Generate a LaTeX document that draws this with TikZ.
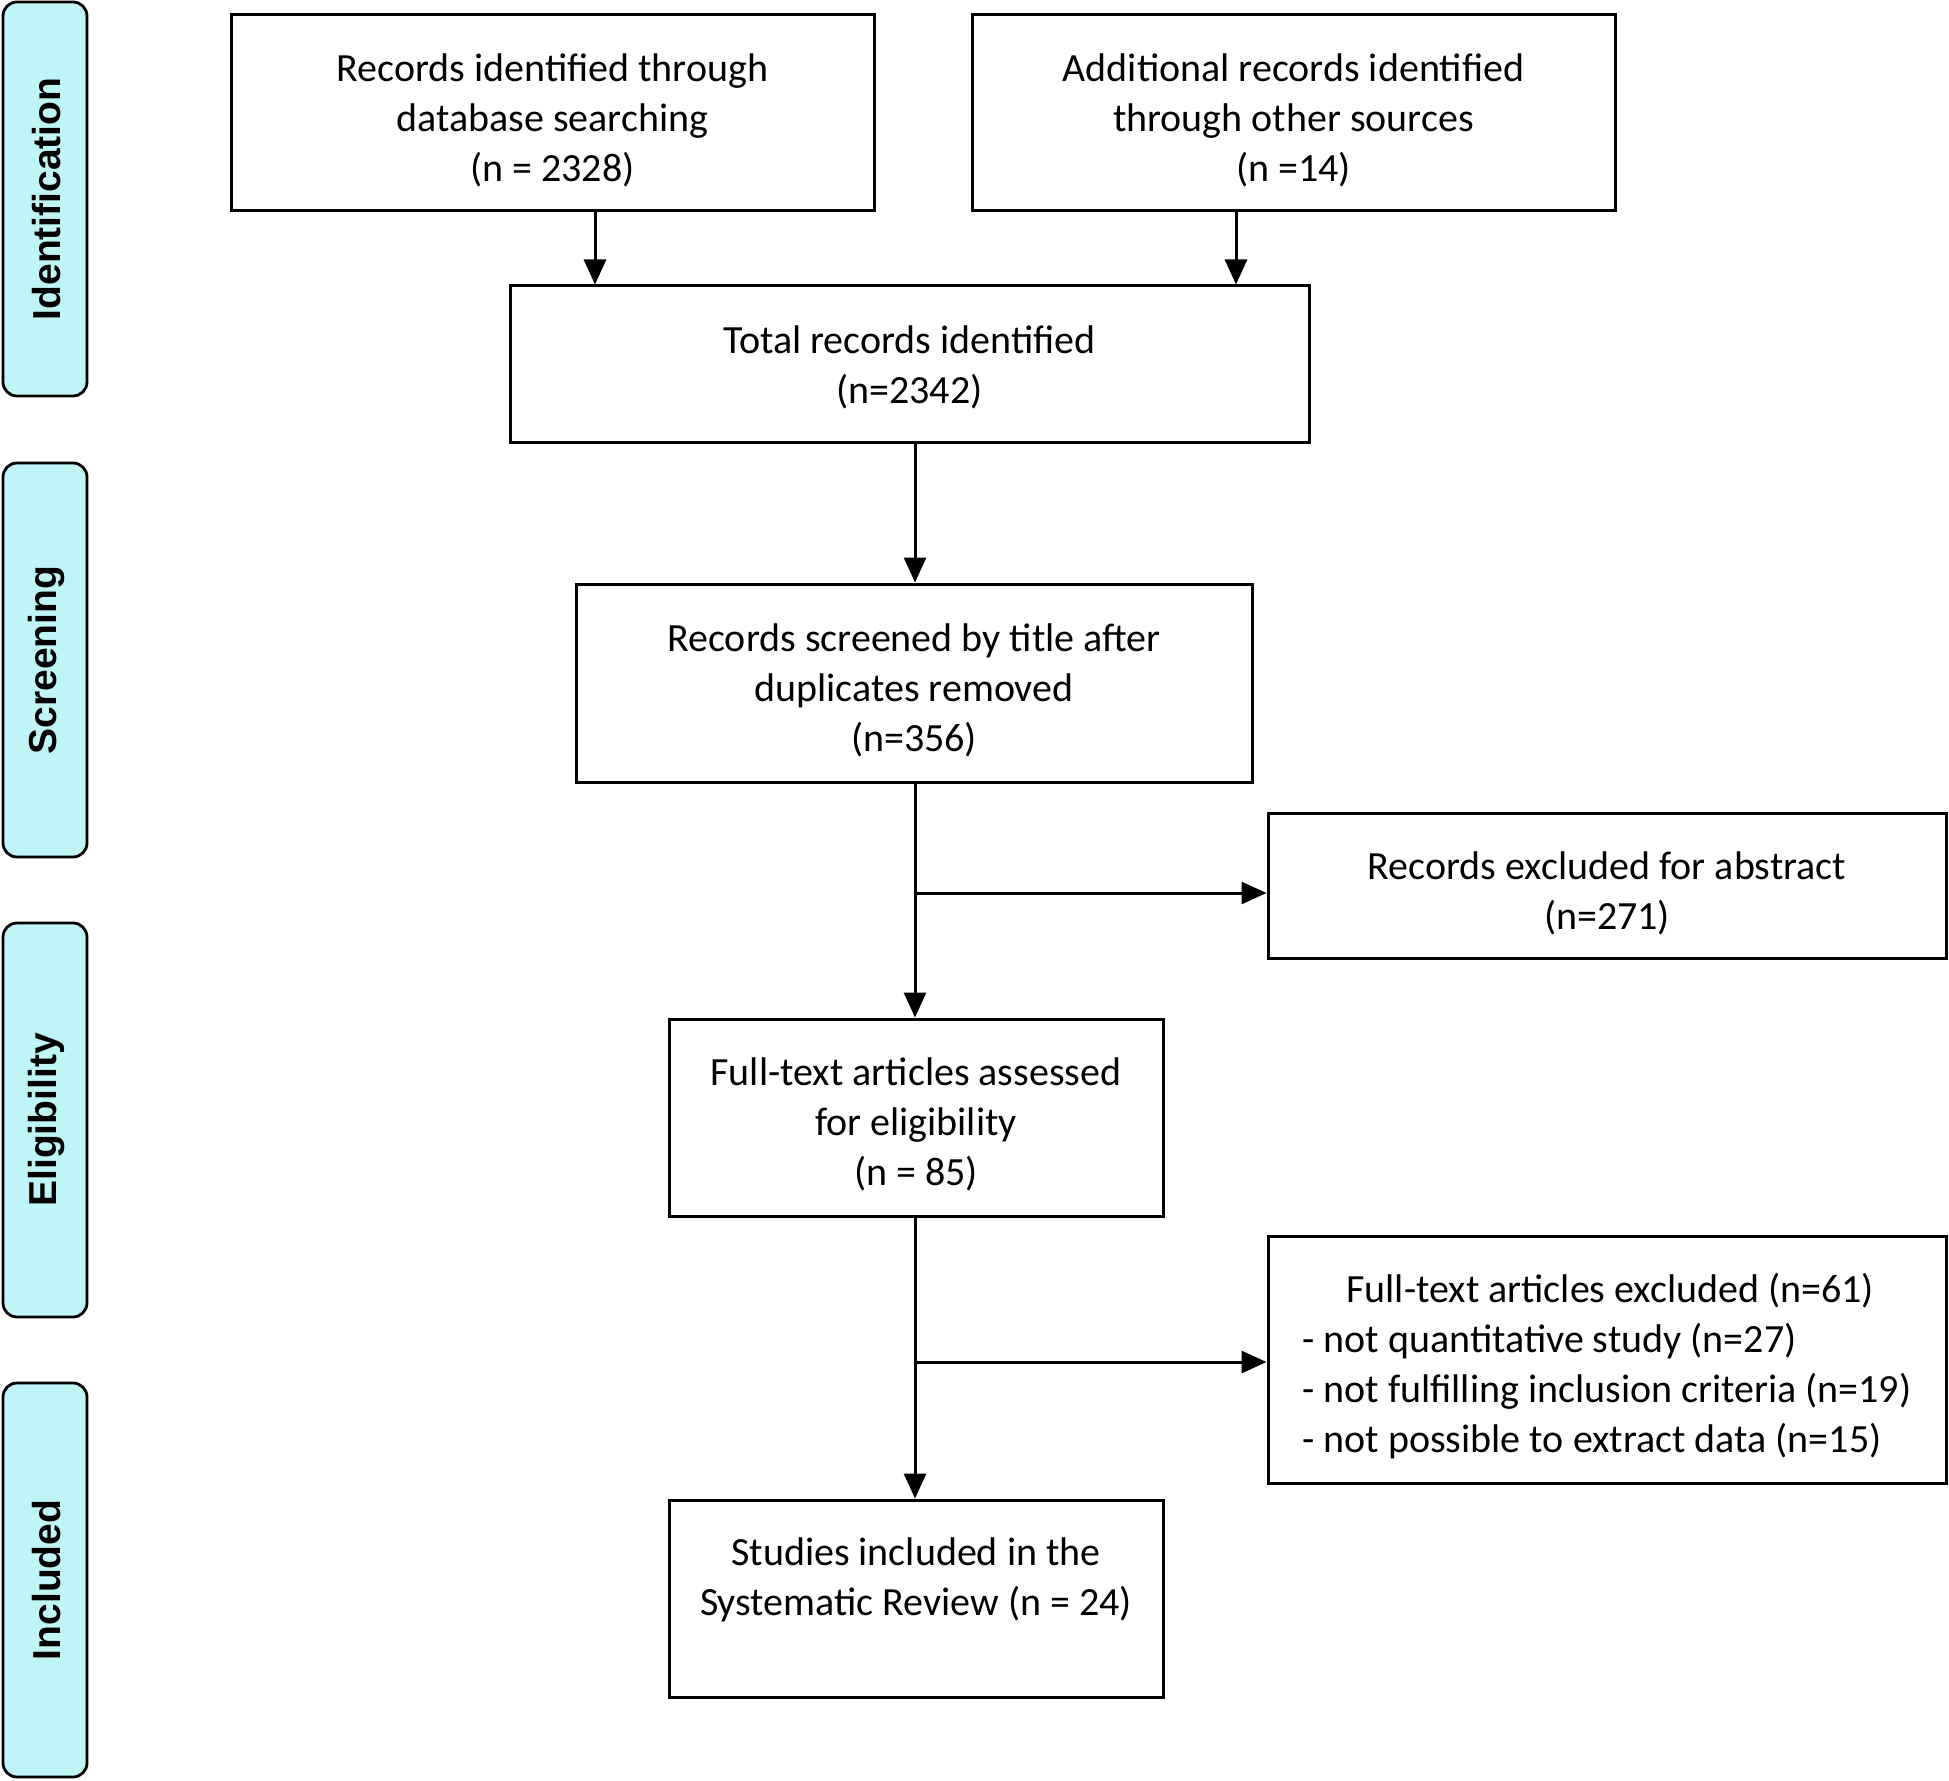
\documentclass[tikz,border=0pt]{standalone}
\usepackage{fontspec}
\setmainfont{Carlito}
\newfontfamily\sidefont{Liberation Sans}
\usetikzlibrary{arrows.meta}
\definecolor{sidecyan}{RGB}{192,245,247}
\newcommand\boxtext[3][c]{\raisebox{-#2}[\height][\depth]{\begin{tabular}{@{}#1@{}}#3\end{tabular}}}
\begin{document}
\begin{tikzpicture}[x=0.5pt,y=-0.5pt,
  box/.style={draw=black,line width=1.5pt,fill=white,inner sep=0pt,
    font=\fontsize{20pt}{25pt}\selectfont},
  side/.style={draw=black,line width=1.4pt,fill=sidecyan,rounded corners=7pt,
    minimum width=42pt,minimum height=197pt,inner sep=0pt},
  sidelabel/.style={rotate=90,font=\sidefont\bfseries\fontsize{19.5pt}{22pt}\selectfont},
  arr/.style={line width=1.5pt,-{Triangle[length=12.5pt,width=11pt]}}]
\useasboundingbox (0,0) rectangle (1949,1781);
% side bars
\node[side] (s1) at (45,199) {};
\node[side] (s2) at (45,660) {};
\node[side] (s3) at (45,1120) {};
\node[side] (s4) at (45,1580) {};
\node[sidelabel] (l1) at (47,199) {Identification};
\node[sidelabel] (l2) at (47,660) {Screening};
\node[sidelabel] (l3) at (47,1120) {Eligibility};
\node[sidelabel] (l4) at (47,1580) {Included};
% boxes
\node[box,minimum width=321.5pt,minimum height=98pt] (b1) at (552.5,113)
  {\boxtext{4.5pt}{Records identified through\\database searching\\(n = 2328)}};
\node[box,minimum width=321.5pt,minimum height=98pt] (b2) at (1293.5,113)
  {\boxtext{4.5pt}{Additional records identified\\through other sources\\(n =14)}};
\node[box,minimum width=399.5pt,minimum height=78.5pt] (tot) at (909.5,364.5)
  {\boxtext{2pt}{Total records identified\\(n=2342)}};
\node[box,minimum width=338pt,minimum height=99pt] (scr) at (914,683)
  {\boxtext{4pt}{Records screened by title after\\duplicates removed\\(n=356)}};
\node[box,minimum width=339pt,minimum height=72.5pt] (ex1) at (1607,885.5)
  {\boxtext{4.5pt}{Records excluded for abstract\\(n=271)}};
\node[box,minimum width=247pt,minimum height=98.5pt] (ft) at (916,1117.5)
  {\boxtext{4pt}{Full-text articles assessed\\for eligibility\\(n = 85)}};
\node[box,minimum width=339pt,minimum height=123.5pt] (ex2) at (1607,1359.5)
  {\boxtext[l]{4pt}{\hspace*{22pt}Full-text articles excluded (n=61)\\- not quantitative study (n=27)\\- not fulfilling inclusion criteria (n=19)\\- not possible to extract data (n=15)}};
\node[box,minimum width=247pt,minimum height=98.5pt] (st) at (916,1598.5)
  {\boxtext{3.5pt}{Studies included in the\\Systematic Review (n = 24)\\\mbox{}}};
% connector coordinates
\coordinate (xa) at (595,0);
\coordinate (xb) at (1236,0);
\coordinate (xm) at (915,0);
\coordinate (j1) at (915,893);
\coordinate (j2) at (915,1362);
% connectors
\draw[arr] (b1.south -| xa) -- (tot.north -| xa);
\draw[arr] (b2.south -| xb) -- (tot.north -| xb);
\draw[arr] (tot.south -| xm) -- (scr.north -| xm);
\draw[arr] (scr.south -| xm) -- (ft.north -| xm);
\draw[arr] (j1) -- (ex1.west |- j1);
\draw[arr] (ft.south -| xm) -- (st.north -| xm);
\draw[arr] (j2) -- (ex2.west |- j2);
\end{tikzpicture}
\end{document}
